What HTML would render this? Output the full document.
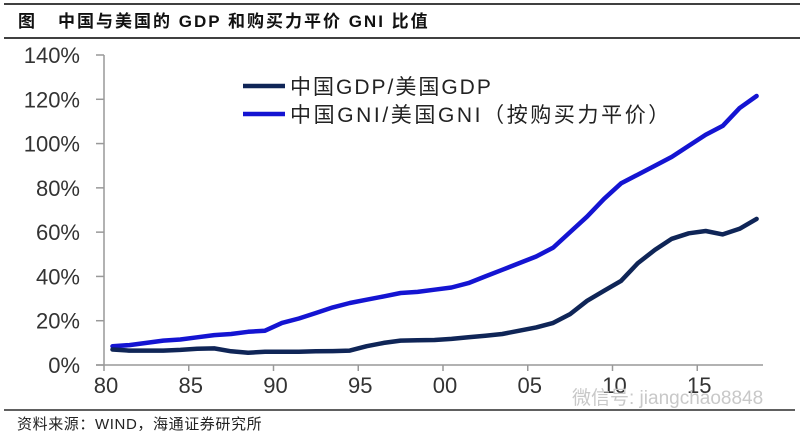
<!DOCTYPE html>
<html><head><meta charset="utf-8">
<style>
html,body{margin:0;padding:0;background:#fff;}
body{width:807px;height:438px;overflow:hidden;font-family:"Liberation Sans","Noto Sans CJK SC",sans-serif;}
</style></head>
<body>
<svg id="chart" width="807" height="438" viewBox="0 0 807 438" xmlns="http://www.w3.org/2000/svg" font-family="Liberation Sans, Noto Sans CJK SC, sans-serif">
  <line x1="4" y1="4" x2="800" y2="4" stroke="#000" stroke-width="1.5"/>
  <text x="18" y="27" font-size="17" font-weight="bold" fill="#111" letter-spacing="2">图<tspan x="58">中国与美国的 GDP 和购买力平价 GNI 比值</tspan></text>
  <line x1="4" y1="38" x2="800" y2="38" stroke="#000" stroke-width="1.5"/>
  <g id="axes"></g>
  <g id="series"></g>
  <g>
    <line x1="243" y1="86" x2="285" y2="86" stroke="#0f2557" stroke-width="4.5"/>
    <text x="290" y="94" font-size="21" fill="#222" letter-spacing="2">中国GDP/美国GDP</text>
    <line x1="243" y1="114" x2="285" y2="114" stroke="#1414d2" stroke-width="4.5"/>
    <text x="290" y="122" font-size="21" fill="#222" letter-spacing="2.6">中国GNI/美国GNI（按购买力平价）</text>
  </g>
  <text x="572" y="404" font-size="19" fill="#c8c8c8">微信号: jiangchao8848</text>
  <line x1="4" y1="410" x2="795" y2="410" stroke="#000" stroke-width="1.2"/>
  <text x="17" y="429" font-size="15" fill="#222" letter-spacing="0.6">资料来源：WIND，海通证券研究所</text>
</svg>
<script>
const years = [1980,1981,1982,1983,1984,1985,1986,1987,1988,1989,1990,1991,1992,1993,1994,1995,1996,1997,1998,1999,2000,2001,2002,2003,2004,2005,2006,2007,2008,2009,2010,2011,2012,2013,2014,2015,2016,2017,2018];
const gdpRatio = [7,6.5,6.5,6.5,6.8,7.3,7.5,6.2,5.5,6,6,6,6.2,6.3,6.5,8.5,10,11,11.2,11.3,11.8,12.5,13.2,14,15.5,17,19,23,29,33.5,38,46,52,57,59.5,60.5,59,61.5,66];
const gniRatio = [8.5,9,10,11,11.5,12.5,13.5,14,15,15.5,19,21,23.5,26,28,29.5,31,32.5,33,34,35,37,40,43,46,49,53,60,67,75,82,86,90,94,99,104,108,116,121.5];
const yTicks = [0,20,40,60,80,100,120,140];
const xTickYears = [1980,1985,1990,1995,2000,2005,2010,2015];
const xTickLabels = ["80","85","90","95","00","05","10","15"];

const NS="http://www.w3.org/2000/svg";
const X0=104, X1=763, Y0=365, YTOP=55, PERYEAR=16.95;
function xTick(y){return X0+(y-1980)*PERYEAR;}
function xData(y){return X0+(y-1980+0.5)*PERYEAR;}
function yPos(v){return Y0-(v/140)*(Y0-YTOP);}
function mk(tag,attrs,parent){const e=document.createElementNS(NS,tag);for(const k in attrs)e.setAttribute(k,attrs[k]);parent.appendChild(e);return e;}

const axes=document.getElementById('axes');
let ya=mk('line',{x1:X0,y1:YTOP,x2:X0,y2:Y0,stroke:'#999','stroke-width':1.5},axes);


let xa=mk('line',{x1:X0-8,y1:Y0,x2:X1,y2:Y0,stroke:'#999','stroke-width':1.5},axes);


yTicks.forEach(v=>{
  const y=yPos(v);
  let t=mk('line',{x1:X0-8,y1:y,x2:X0,y2:y,stroke:'#999','stroke-width':1.5},axes);
  
  
  let l=mk('text',{x:X0-24,y:y+8,'font-size':22,'text-anchor':'end',fill:'#333'},axes);
  l.textContent=v+'%';
  
  
});
xTickYears.forEach((yr,i)=>{
  const x=xTick(yr);
  let t=mk('line',{x1:x,y1:Y0,x2:x,y2:Y0+6,stroke:'#999','stroke-width':1.5},axes);
  
  
  let l=mk('text',{x:x+2,y:Y0+28,'font-size':22,'text-anchor':'middle',fill:'#333'},axes);
  l.textContent=xTickLabels[i];
  
  
});
const series=document.getElementById('series');
function line(vals,color,name){
  const d=vals.map((v,i)=>(i?'L':'M')+xData(years[i]).toFixed(1)+','+yPos(v).toFixed(1)).join(' ');
  let p=mk('path',{d:d,fill:'none',stroke:color,'stroke-width':4.5,'stroke-linejoin':'round','stroke-linecap':'round'},series);
  
  
}
line(gniRatio,'#1414d2','gni-ratio-line');
line(gdpRatio,'#0f2557','gdp-ratio-line');
</script>
</body></html>
